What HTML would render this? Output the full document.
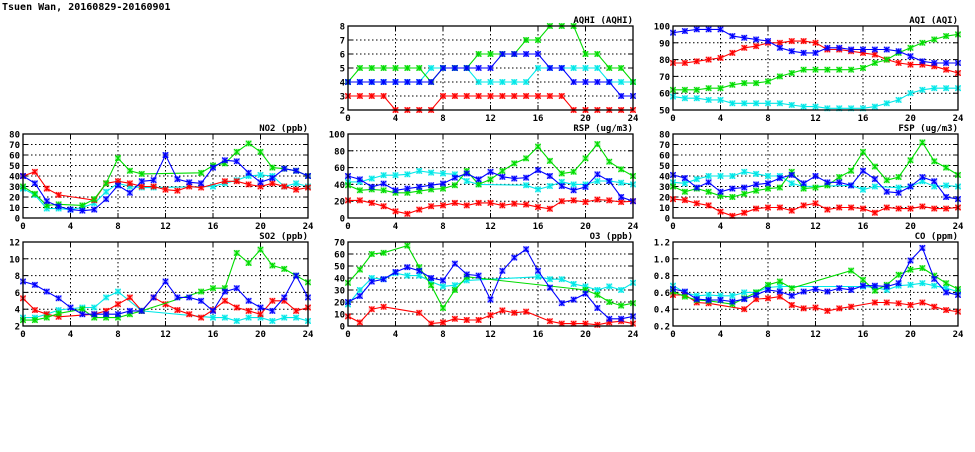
<!DOCTYPE html>
<html><head><meta charset="utf-8"><style>
body{margin:0;background:#fff;width:975px;height:447px;overflow:hidden}
svg text{font-family:"DejaVu Sans Mono","Liberation Mono",monospace;font-weight:bold;fill:#000}
</style></head><body>
<svg id="chart" width="975" height="447" viewBox="0 0 975 447" xmlns="http://www.w3.org/2000/svg">
<text x="2" y="10" font-size="10">Tsuen Wan, 20160829-20160901</text>
</svg>
<script>
const hours = [0,1,2,3,4,5,6,7,8,9,10,11,12,13,14,15,16,17,18,19,20,21,22,23,24];
const xTicks = [0,4,8,12,16,20,24];
const N = null;
const aqhiRed   = [3,3,3,3,2,2,2,2,3,3,3,3,3,3,3,3,3,3,3,2,2,2,2,2,2];
const aqhiGreen = [4,5,5,5,5,5,5,4,5,5,5,6,6,6,6,7,7,8,8,8,6,6,5,5,4];
const aqhiBlue  = [4,4,4,4,4,4,4,4,5,5,5,5,5,6,6,6,6,5,5,4,4,4,4,3,3];
const aqhiCyan  = [4,4,4,4,4,4,4,5,5,5,5,4,4,4,4,4,5,5,5,5,5,5,4,4,4];
const aqiRed   = [78,78,79,80,81,84,87,88,90,90,91,91,90,86,86,85,84,83,80,78,77,77,76,74,72];
const aqiGreen = [62,62,62,63,63,65,66,66,67,70,72,74,74,74,74,74,75,78,80,84,87,90,92,94,95];
const aqiBlue  = [96,97,98,98,98,94,93,92,91,87,85,84,84,87,87,86,86,86,86,85,82,79,78,78,78];
const aqiCyan  = [58,57,57,56,56,54,54,54,54,54,53,52,52,51,51,51,51,52,54,56,60,62,63,63,63];
const no2Red   = [40,44,28,22,N,N,17,33,35,33,30,30,27,26,30,29,N,35,35,32,30,33,30,27,29];
const no2Green = [30,23,12,13,N,12,18,33,57,45,42,N,N,N,N,43,50,52,63,71,63,48,47,45,40];
const no2Blue  = [40,33,16,11,8,7,8,18,31,24,35,36,60,37,34,33,48,55,54,43,34,38,47,45,40];
const no2Cyan  = [28,22,9,9,8,10,14,25,33,30,29,29,N,N,N,N,30,33,36,40,41,40,30,33,30];
const rspRed   = [21,21,18,14,8,5,10,14,15,18,15,18,18,15,17,16,13,11,20,21,19,22,21,19,20];
const rspGreen = [39,33,34,33,30,30,32,34,35,39,56,40,46,56,65,71,85,68,53,55,71,88,67,58,50];
const rspBlue  = [50,46,37,41,33,35,37,39,41,48,53,46,55,49,47,48,57,50,38,33,37,52,44,25,20];
const rspCyan  = [43,43,47,51,51,52,56,54,53,52,44,40,N,N,N,39,34,38,43,40,40,44,44,42,40];
const fspRed   = [18,17,14,12,6,2,5,9,10,10,7,12,14,8,10,10,9,5,10,9,9,11,9,9,10];
const fspGreen = [30,25,28,25,21,20,23,26,28,29,44,28,29,31,39,45,63,49,36,39,55,72,54,48,41];
const fspBlue  = [41,38,29,34,25,28,29,32,33,38,41,33,40,34,34,31,45,37,25,24,30,39,35,20,18];
const fspCyan  = [34,33,37,40,40,40,44,42,40,40,33,30,N,N,N,31,27,30,N,29,30,35,30,31,30];
const so2Red   = [5.3,3.9,3.4,3.1,N,N,3.4,3.8,4.6,5.4,3.8,5.4,4.6,3.9,3.4,3.0,3.9,5.0,4.2,3.8,3.4,5.0,5.0,3.8,4.2];
const so2Green = [2.7,2.7,3.0,3.5,N,4.0,3.0,3.0,3.0,3.4,3.8,N,N,N,N,6.1,6.5,6.5,10.7,9.5,11.1,9.2,8.8,8.0,7.2];
const so2Blue  = [7.3,6.9,6.1,5.3,4.2,3.4,3.4,3.4,3.4,3.8,3.8,5.4,7.3,5.4,5.4,5.0,3.8,6.1,6.5,5.0,4.2,3.8,5.4,8.0,5.4];
const so2Cyan  = [3.0,3.0,3.4,3.9,N,4.2,4.2,5.4,6.1,N,3.8,N,N,N,N,N,3.0,3.0,2.6,3.0,3.0,2.6,3.0,3.0,2.6];
const o3Red   = [8,3,14,16,N,N,11,2,3,6,5,5,9,13,11,12,N,4,2,2,2,1,3,4,2];
const o3Green = [36,47,60,61,N,67,49,34,15,30,41,N,N,N,N,N,N,N,N,N,30,26,20,17,19];
const o3Blue  = [20,25,37,39,45,49,46,40,38,52,43,42,22,46,57,64,46,32,19,22,27,15,6,6,8];
const o3Cyan  = [18,30,40,39,44,42,42,37,33,34,38,N,N,N,N,N,41,39,39,35,33,30,33,30,36];
const coRed   = [.57,.57,.48,.47,N,N,.40,.52,.53,.55,.45,.41,.42,.38,.41,.43,N,.48,.48,.47,.45,.48,.43,.39,.37];
const coGreen = [.61,.55,.51,.50,N,.46,.53,.60,.69,.73,.65,N,N,N,N,.86,.75,.62,.69,.81,.87,.89,.80,.71,.64];
const coBlue  = [.64,.61,.52,.51,.51,.49,.52,.57,.63,.61,.56,.61,.64,.61,.65,.63,.68,.68,.67,.71,.98,1.13,.76,.60,.57];
const coCyan  = [.68,.60,.56,.57,.56,.56,.60,.60,.66,.67,N,N,N,N,N,N,.67,.66,.63,.68,.69,.71,.68,.65,.61];

const aqhiTicks=[2,3,4,5,6,7,8], aqiTicks=[50,60,70,80,90,100], no2Ticks=[0,10,20,30,40,50,60,70,80],
rspTicks=[0,20,40,60,80,100], fspTicks=[0,10,20,30,40,50,60,70,80], so2Ticks=[2,4,6,8,10,12],
o3Ticks=[0,10,20,30,40,50,60,70], coTicks=[0.2,0.4,0.6,0.8,1.0,1.2];

const colX=[23,348,673], rowY=[26,134,242], W=285, H=84;
const COLORS={cyan:'#00e8e8',red:'#ff0000',green:'#00dd00',blue:'#0000ff'};
const panels=[
 {id:'aqhi',title:'AQHI (AQHI)',c:1,r:0,ticks:aqhiTicks,s:{cyan:aqhiCyan,red:aqhiRed,green:aqhiGreen,blue:aqhiBlue}},
 {id:'aqi',title:'AQI (AQI)',c:2,r:0,ticks:aqiTicks,s:{cyan:aqiCyan,red:aqiRed,green:aqiGreen,blue:aqiBlue}},
 {id:'no2',title:'NO2 (ppb)',c:0,r:1,ticks:no2Ticks,s:{cyan:no2Cyan,red:no2Red,green:no2Green,blue:no2Blue}},
 {id:'rsp',title:'RSP (ug/m3)',c:1,r:1,ticks:rspTicks,s:{cyan:rspCyan,red:rspRed,green:rspGreen,blue:rspBlue}},
 {id:'fsp',title:'FSP (ug/m3)',c:2,r:1,ticks:fspTicks,s:{cyan:fspCyan,red:fspRed,green:fspGreen,blue:fspBlue}},
 {id:'so2',title:'SO2 (ppb)',c:0,r:2,ticks:so2Ticks,s:{cyan:so2Cyan,red:so2Red,green:so2Green,blue:so2Blue}},
 {id:'o3',title:'O3 (ppb)',c:1,r:2,ticks:o3Ticks,s:{cyan:o3Cyan,red:o3Red,green:o3Green,blue:o3Blue}},
 {id:'co',title:'CO (ppm)',c:2,r:2,ticks:coTicks,s:{cyan:coCyan,red:coRed,green:coGreen,blue:coBlue}}
];
const svg=document.getElementById('chart');
const NS='http://www.w3.org/2000/svg';
function mk(tag,attrs,parent){const e=document.createElementNS(NS,tag);for(const k in attrs)e.setAttribute(k,attrs[k]);parent.appendChild(e);return e;}
panels.forEach(p=>{
  const x0=colX[p.c], y0=rowY[p.r];
  const ymin=p.ticks[0], ymax=p.ticks[p.ticks.length-1];
  const sx=v=>x0+v/24*W;
  const sy=v=>y0+H-(v-ymin)/(ymax-ymin)*H;
  const g=mk('g',{},svg);
  
  
  const t=mk('text',{x:x0+W,y:y0-3,'font-size':'9','text-anchor':'end'},g);
  t.textContent=p.title;
  
  
  p.ticks.forEach((v,i)=>{
    const y=sy(v);
    if(i>0&&i<p.ticks.length-1){
      const gl=mk('line',{x1:x0,x2:x0+W,y1:y,y2:y,stroke:'#000','stroke-width':1,'stroke-dasharray':'1.5,2.5'},g);
      
      
    }
    mk('line',{x1:x0,x2:x0+5,y1:y,y2:y,stroke:'#000'},g);
    mk('line',{x1:x0+W-5,x2:x0+W,y1:y,y2:y,stroke:'#000'},g);
    const lb=mk('text',{x:x0-3,y:y+3.5,'font-size':'9','text-anchor':'end'},g);
    lb.textContent=p.id==='co'?v.toFixed(1):String(v);
    
    
  });
  xTicks.forEach((v,i)=>{
    const x=sx(v);
    if(i>0&&i<xTicks.length-1){
      const gl=mk('line',{x1:x,x2:x,y1:y0,y2:y0+H,stroke:'#000','stroke-width':1,'stroke-dasharray':'1.5,2.5'},g);
      
      
    }
    mk('line',{x1:x,x2:x,y1:y0+H,y2:y0+H-5,stroke:'#000'},g);
    mk('line',{x1:x,x2:x,y1:y0,y2:y0+5,stroke:'#000'},g);
    const lb=mk('text',{x:x,y:y0+H+11,'font-size':'9','text-anchor':'middle'},g);
    lb.textContent=String(v);
    
    
  });
  ['cyan','red','green','blue'].forEach(col=>{
    const vals=p.s[col]; const pts=[];
    vals.forEach((v,i)=>{if(v!==null)pts.push([sx(hours[i]),sy(v)]);});
    const sg=mk('g',{},g);
    
    
    mk('polyline',{points:pts.map(q=>q[0].toFixed(1)+','+q[1].toFixed(1)).join(' '),fill:'none',stroke:COLORS[col],'stroke-width':1.1},sg);
    pts.forEach(q=>{
      const m=mk('g',{},sg);
      
      
      mk('rect',{x:q[0]-3,y:q[1]-3,width:6,height:6,fill:COLORS[col],opacity:0.35},m);
      mk('path',{d:`M${q[0]-2.7},${q[1]-2.7}L${q[0]+2.7},${q[1]+2.7}M${q[0]-2.7},${q[1]+2.7}L${q[0]+2.7},${q[1]-2.7}M${q[0]},${q[1]-2.7}L${q[0]},${q[1]+2.7}`,stroke:COLORS[col],'stroke-width':1.1},m);
    });
  });
  const fr=mk('rect',{x:x0,y:y0,width:W,height:H,fill:'none',stroke:'#000','stroke-width':1.3},g);
  
  
});
</script>
</body></html>
